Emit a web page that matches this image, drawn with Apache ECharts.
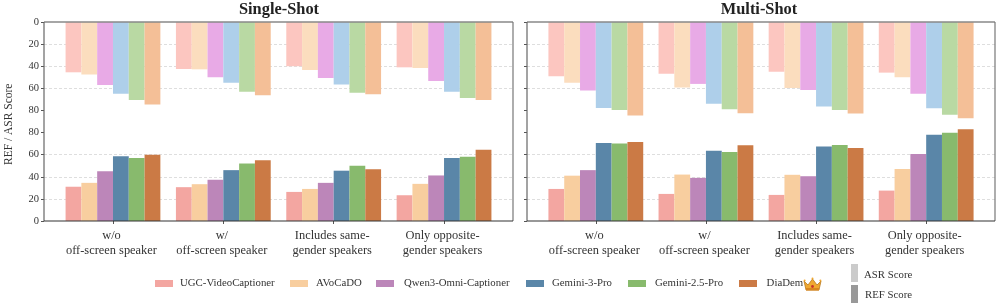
<!DOCTYPE html>
<html><head><meta charset="utf-8">
<style>html,body{margin:0;padding:0;background:#fff}#c{width:997px;height:305px}</style>
<script src="https://cdn.jsdelivr.net/npm/echarts@6/dist/echarts.min.js"></script>
</head><body><div id="c"></div>
<script>
const categories = ['w/o\noff-screen speaker','w/\noff-screen speaker','Includes same-\ngender speakers','Only opposite-\ngender speakers'];
const models = ['UGC-VideoCaptioner','AVoCaDO','Qwen3-Omni-Captioner','Gemini-3-Pro','Gemini-2.5-Pro','DiaDem'];
const panels = ['Single-Shot','Multi-Shot'];
const yTicks = [0,20,40,60,80];
const refColors = ['#F3A6A1','#F8CE9F','#BC86B9','#5A86A8','#88BA6D','#CB7A45'];
const asrColors = ['#FCC6C0','#FBDDBE','#E8AAE6','#AECFEA','#B9D9A3','#F4BF97'];

// ASR score per panel, one row per model, across the four categories
const asrSingle = [[45.5,42.5,40,41],[47.6,42.8,43.4,41.6],[57,50,50.6,53.3],[65,55,56.6,63],[70.5,63,63.9,68.7],[74.7,66.3,65.4,70.5]];
const asrMulti  = [[49,46.7,45,45.8],[55,59.3,59.6,50],[62,56,61.4,64.8],[77.7,74,76.5,78],[79.5,79,79.5,84],[84.6,82.5,82.8,87]];
// REF score
const refSingle = [[31,30.6,26.3,23.3],[34.5,33.3,29,33.6],[45,37.3,34.5,41.2],[58.5,46,45.5,57],[57,52,50,58.2],[60,55,46.7,64.5]];
const refMulti  = [[29,24.5,23.6,27.5],[41,42,41.8,47],[46,39,40.5,60.6],[70.5,63.5,67.5,78],[70,62.5,68.7,79.8],[71.5,68.5,66,83]];

const FONT = '"Liberation Serif", "Times New Roman", serif';
const TXT = '#333';
const refData = [refSingle, refMulti], asrData = [asrSingle, asrMulti];
const grids = [{left:44,top:22,width:469,height:199},{left:527,top:22,width:468,height:199}];

const xAxis = [], yAxis = [], series = [];
const splitLine = {show:true, showMaxLine:false, showMinLine:false, customValues:yTicks,
  lineStyle:{color:'#dedede',width:1,type:[3,2]}};
panels.forEach((title,p)=>{
  // visible x axis for the REF bars
  xAxis.push({gridIndex:p,type:'value',position:'bottom',min:-0.625,max:3.625,splitLine:{show:false},
    axisLine:{show:false,onZero:false},
    axisTick:{show:true,customValues:[0,1,2,3],length:3,lineStyle:{color:'#555'}},
    axisLabel:{customValues:[0,1,2,3],formatter:v=>categories[Math.round(v)],
      fontFamily:FONT,fontSize:12.4,color:TXT,lineHeight:15,margin:7,hideOverlap:false,padding:[0,3,0,0]}});
  // hidden twin so the ASR bars take their own slots
  xAxis.push({gridIndex:p,type:'value',position:'top',min:-0.625,max:3.625,show:false,splitLine:{show:false},
    axisLine:{onZero:false}});
  [false,true].forEach(inv=>{
    yAxis.push({gridIndex:p,type:'value',min:0,max:180,inverse:inv,position:'left',
      axisLine:{show:false,onZero:false},
      axisTick:{show:true,customValues:yTicks,length:3,lineStyle:{color:'#555'}},
      axisLabel:{show:p===0,customValues:yTicks,fontFamily:FONT,fontSize:10.5,color:TXT,margin:5,
        formatter:v=>String(v)},
      splitLine:splitLine});
  });
  models.forEach((m,i)=>{
    series.push({type:'bar',name:m,xAxisIndex:p*2,yAxisIndex:p*2,barWidth:15.8,barGap:'0%',
      data:refData[p][i].map((v,k)=>[k,v]),z:3,
      itemStyle:{color:refColors[i]}});
    series.push({type:'bar',name:m+' ASR',xAxisIndex:p*2+1,yAxisIndex:p*2+1,barWidth:15.8,barGap:'0%',
      data:asrData[p][i].map((v,k)=>[k,v]),z:3,
      itemStyle:{color:asrColors[i]}});
  });
});

// crown next to the DiaDem legend entry
const crown = {type:'group',x:804,y:277,children:[
  {type:'polygon',shape:{points:[[0,4],[4,8],[8.5,2],[13,8],[17,4],[15,13],[2,13]]},style:{fill:'#F0A830',stroke:'#B9791C',lineWidth:0.8}},
  {type:'rect',shape:{x:2,y:11,width:13,height:2.5},style:{fill:'#D9861F'}},
  {type:'circle',shape:{cx:8.5,cy:9.5,r:1.4},style:{fill:'#C8352B'}},
  {type:'circle',shape:{cx:0.6,cy:3.4,r:1},style:{fill:'#F0A830'}},
  {type:'circle',shape:{cx:8.5,cy:1.4,r:1},style:{fill:'#F0A830'}},
  {type:'circle',shape:{cx:16.4,cy:3.4,r:1},style:{fill:'#F0A830'}}
]};

const graphic = [
  crown,
  {type:'rect',x:851,y:264,shape:{width:7,height:18},style:{fill:'#CBCBCB'}},
  {type:'rect',x:851,y:285,shape:{width:7,height:18},style:{fill:'#999999'}},
  {type:'text',x:864,y:270,style:{text:'ASR Score',fontFamily:FONT,fontSize:10.8,fill:TXT}},
  {type:'text',x:865,y:290,style:{text:'REF Score',fontFamily:FONT,fontSize:10.8,fill:TXT}},
  {type:'text',rotation:Math.PI/2,x:3,y:165,style:{text:'REF / ASR Score',fontFamily:FONT,fontSize:11.5,fill:TXT}}
];
// panel frames: top spine thick grey, left grey, right grey, bottom dark
grids.forEach(g=>{
  const L=g.left,R=g.left+g.width,T=g.top,B=g.top+g.height;
  graphic.push({type:'line',shape:{x1:L,y1:T,x2:R,y2:T},style:{stroke:'#888',lineWidth:1.6},z:10,silent:true});
  graphic.push({type:'line',shape:{x1:L,y1:T,x2:L,y2:B},style:{stroke:'#666',lineWidth:1.2},z:10,silent:true});
  graphic.push({type:'line',shape:{x1:R,y1:T,x2:R,y2:B},style:{stroke:'#777',lineWidth:1.2},z:10,silent:true});
  graphic.push({type:'line',shape:{x1:L,y1:B,x2:R,y2:B},style:{stroke:'#333',lineWidth:1.2},z:10,silent:true});
});

// each legend entry sits at its own place, with its own swatch-to-text gap
const legendLeft = [155,290,376,526,628,739];
const legendPad = [2,3,5,3,4,4.6];
const legend = models.map((m,i)=>({data:[m],left:legendLeft[i],top:278,itemWidth:18,itemHeight:7,
  textStyle:{fontFamily:FONT,fontSize:10.8,color:TXT,padding:[0,0,0,legendPad[i]]},
  icon:'rect',selectedMode:false,padding:0}));

const chart = echarts.init(document.getElementById('c'),null,{renderer:'canvas'});
chart.setOption({
  backgroundColor:'#fff',animation:false,
  title:[
    {text:panels[0],left:274,top:-3,textAlign:'center',textStyle:{fontFamily:FONT,fontSize:16.4,fontWeight:'bold',color:'#222'}},
    {text:panels[1],left:754,top:-3,textAlign:'center',textStyle:{fontFamily:FONT,fontSize:16.4,fontWeight:'bold',color:'#222'}}
  ],
  grid:grids,xAxis,yAxis,series,graphic,legend
});
</script></body></html>
